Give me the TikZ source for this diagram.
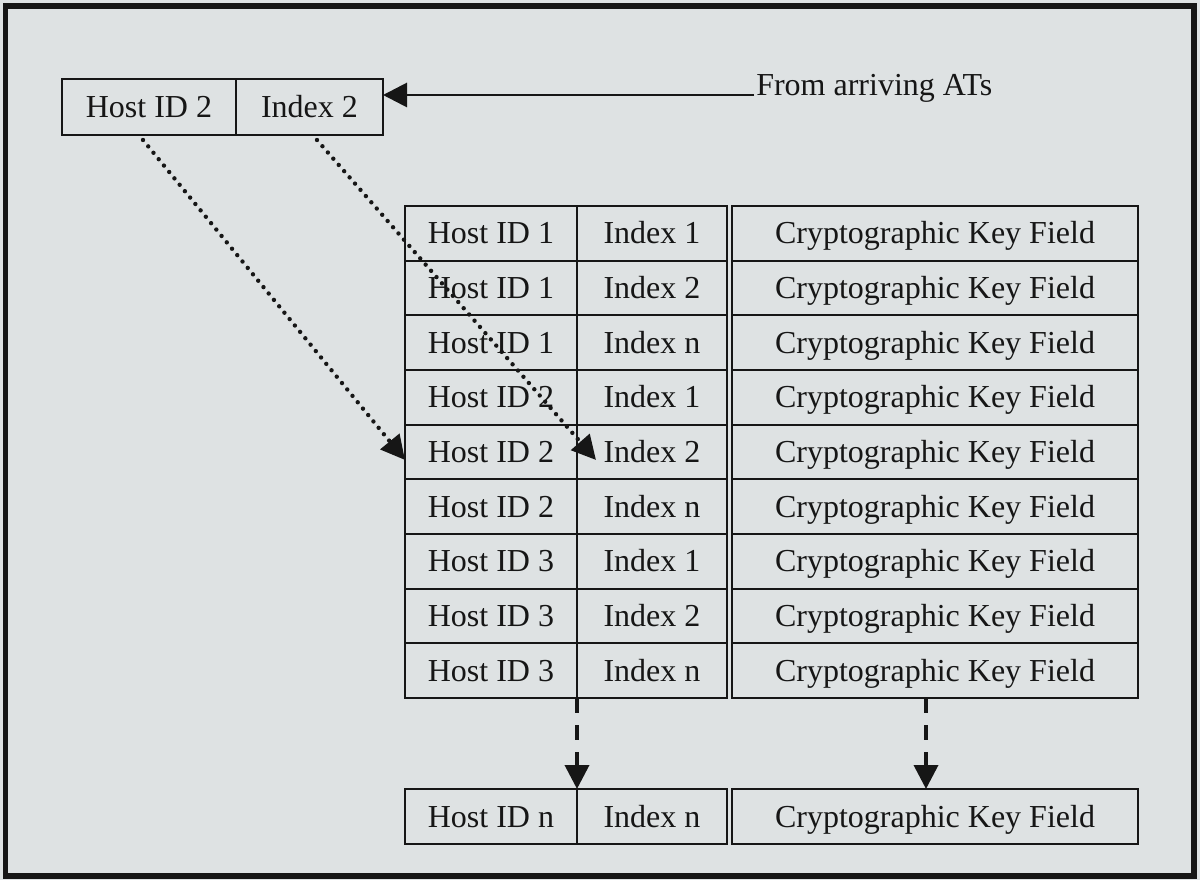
\documentclass[tikz,border=0pt]{standalone}
\usepackage{fontspec}
\setmainfont{Liberation Serif}
\usetikzlibrary{arrows.meta,calc}
\definecolor{bg}{RGB}{222,226,227}
\definecolor{ink}{RGB}{22,22,22}
\tikzset{
  cell/.style={draw=ink, line width=1.7pt, outer sep=0pt, inner sep=0pt,
    minimum height=41pt, text height=15.9pt, text depth=0pt,
    font=\fontsize{24}{28}\selectfont, text=ink},
  hcol/.style={cell, minimum width=129pt},
  icol/.style={cell, minimum width=112.5pt},
  kcol/.style={cell, minimum width=304.5pt},
  tip/.style={-{Triangle[length=18pt,width=18pt]}},
  solidarr/.style={tip, draw=ink, fill=ink, line width=2.2pt},
  dotarr/.style={tip, draw=ink, line width=3.3pt, line cap=round, dash pattern=on 0pt off 6.2pt},
  dasharr/.style={tip, draw=ink, line width=2.8pt, dash pattern=on 11.25pt off 9pt},
}
\begin{document}
\begin{tikzpicture}[x=0.75pt, y=-0.75pt]
  \fill[bg] (0,0) rectangle (1200,880);
  \useasboundingbox (0,0) rectangle (1200,880);
  \draw[ink, line width=3.8pt] (5.5,6) rectangle (1194,876);

  % top-left incoming record
  \node[cell, minimum width=130.5pt, minimum height=42pt] (t1) at (149,107) {Host ID 2};
  \node[cell, minimum width=110.25pt, minimum height=42pt] (t2) at (309.5,107) {Index 2};

  % label and arrow
  \node[anchor=base west, inner sep=0pt, font=\fontsize{24}{28}\selectfont, text=ink] (lab) at (756,96) {From arriving ATs};
  \coordinate (from) at (754,95);
  \draw[solidarr] (from) -- (from -| t2.east);

  % table rows
  \foreach \r/\h/\ix in {1/1/1,2/1/2,3/1/n,4/2/1,5/2/2,6/2/n,7/3/1,8/3/2,9/3/n}{
    \pgfmathsetmacro{\yy}{206+54.667*(\r-0.5)}
    \node[hcol] (h\r) at (491,\yy) {Host ID \h};
    \node[icol] (i\r) at (652,\yy) {Index \ix};
    \node[kcol] (k\r) at (935,\yy) {Cryptographic Key Field};
  }

  % last row
  \node[hcol, minimum height=41.25pt] (hn) at (491,816.5) {Host ID n};
  \node[icol, minimum height=41.25pt] (in) at (652,816.5) {Index n};
  \node[kcol, minimum height=41.25pt] (kn) at (935,816.5) {Cryptographic Key Field};

  % dotted lookup arrows
  \coordinate (d1) at (143,140);
  \coordinate (d2) at (317,140);
  \draw[dotarr] (d1) -- ($(h5.west)+(0,8)$);
  \draw[dotarr] (d2) -- ($(i5.west)+(19,8)$);

  % dashed continuation arrows
  \draw[dasharr] (h9.south east) -- (hn.north east);
  \draw[dasharr] ($(k9.south)+(-9,0)$) -- ($(kn.north)+(-9,0)$);
\end{tikzpicture}
\end{document}
